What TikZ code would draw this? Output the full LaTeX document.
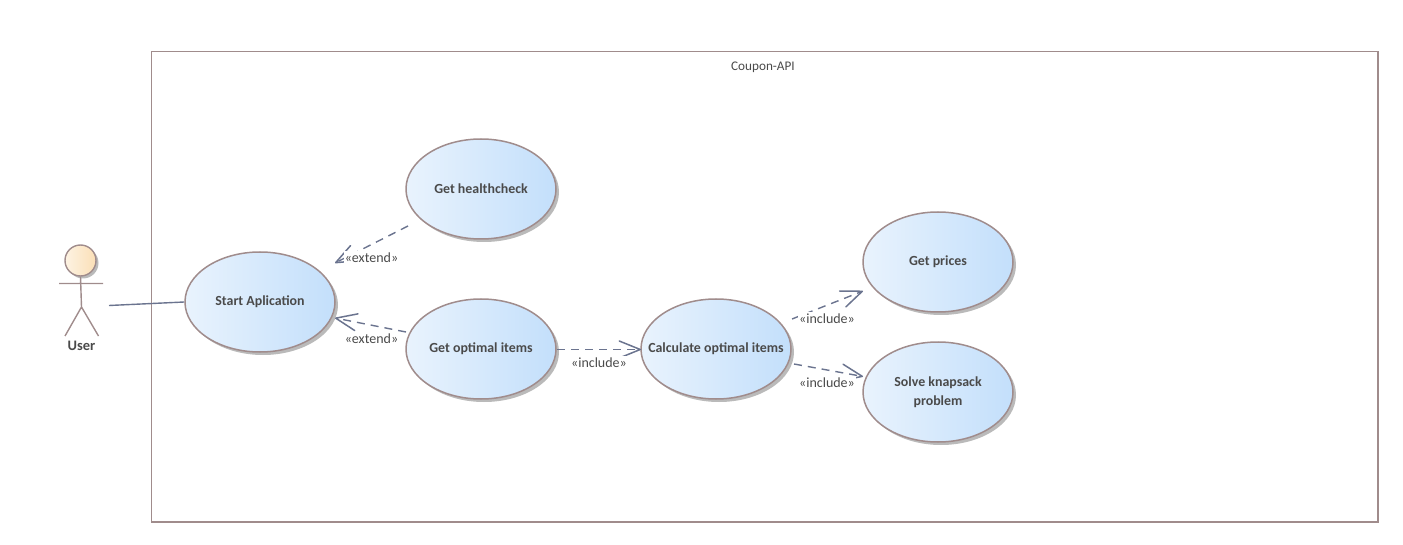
\documentclass[tikz,border=0pt]{standalone}
\usepackage{fontspec}
\setmainfont{Carlito}
\usetikzlibrary{arrows.meta,shapes.geometric,shadows}
\definecolor{edgeC}{HTML}{A08C8C}
\definecolor{lineC}{HTML}{6B748F}
\definecolor{textC}{HTML}{4A4A4A}
\definecolor{ucL}{HTML}{E9F3FD}
\definecolor{ucR}{HTML}{C3DFFB}
\definecolor{acL}{HTML}{FDF3E3}
\definecolor{acR}{HTML}{FBDFB6}
\tikzset{
  x=1pt,y=-1pt,
  usecase/.style={ellipse,draw=edgeC,line width=1.5pt,minimum width=150pt,minimum height=100pt,inner xsep=-20pt,inner ysep=0pt,
    left color=ucL,right color=ucR,align=center,text=textC,font=\fontsize{13.9}{19}\selectfont\bfseries,
    drop shadow={shadow xshift=3pt,shadow yshift=-3pt,fill=black!45,opacity=.6}},
  boundary/.style={draw=edgeC,line width=1.4pt},
  limb/.style={draw=edgeC,line width=1.4pt},
  assoc/.style={draw=lineC,line width=1.4pt},
  dep/.style={draw=lineC,line width=1.4pt,dash pattern=on 8pt off 6pt,
    -{Straight Barb[length=21pt,width=17pt,line width=1.5pt,round]}},
  stereo/.style={font=\fontsize{14}{16}\selectfont,text=textC,fill=white,inner xsep=1pt,inner ysep=2pt},
  lbl/.style={text=textC,inner sep=0pt}
}
\newcommand{\low}[1]{\raisebox{-2pt}{#1}}
\begin{document}
\begin{tikzpicture}
\useasboundingbox (0,0) rectangle (1403,545);
\node[boundary,outer sep=0pt,minimum width=1226.5pt,minimum height=470.5pt,inner sep=0pt,anchor=north west] (sys) at (151.5,51.5) {};
\node[lbl,font=\fontsize{13.2}{15}\selectfont] (sysname) at (763,67.5) {Coupon-API};

% use cases
\node[usecase] (start) at (260,302) {\low{Start Aplication}};
\node[usecase] (health) at (481,189) {\low{Get healthcheck}};
\node[usecase] (optimal) at (481,349) {\low{Get optimal items}};
\node[usecase] (calc) at (716,349) {\low{Calculate optimal items}};
\node[usecase] (prices) at (938,262) {\low{Get prices}};
\node[usecase] (knap) at (938,392) {\low{Solve knapsack}\\\low{problem}};

% actor
\node[circle,draw=edgeC,line width=1.4pt,minimum size=31pt,inner sep=0pt,left color=acL,right color=acR,
  drop shadow={shadow xshift=2.5pt,shadow yshift=-2.5pt,fill=black!45,opacity=.6}] (head) at (80.5,260.5) {};
\coordinate (hip) at (81.5,307);
\coordinate (armL) at (59,283.5);
\coordinate (armR) at (103,283.5);
\coordinate (legL) at (65,336);
\coordinate (legR) at (98.5,336);
\draw[limb] (head.south) -- (hip) (armL) -- (armR) (legL) -- (hip) -- (legR);
\node[lbl,font=\fontsize{14.5}{16}\selectfont\bfseries] (user) at (81.5,346) {User};

% connector ends
\coordinate (uOut) at (109,305.5);
\coordinate (hOut) at (408,226);
\coordinate (hIn) at (335,263);
\coordinate (oOut) at (406,332);
\coordinate (oIn) at (335,318);
\coordinate (o2Out) at (557,349.5);
\coordinate (cIn) at (641,349.5);
\coordinate (cOut) at (792,319);
\coordinate (pIn) at (863,291);
\coordinate (c2Out) at (794,364);
\coordinate (kIn) at (863,376.5);

\draw[assoc] (uOut) -- (start.west);
\draw[dep] (hOut) -- (hIn);
\draw[dep] (oOut) -- (oIn);
\draw[dep] (o2Out) -- (cIn);
\draw[dep] (cOut) -- (pIn);
\draw[dep] (c2Out) -- (kIn);

\node[stereo] (l1) at (371.5,257.5) {«extend»};
\node[stereo] (l2) at (371.5,339) {«extend»};
\node[stereo] (l3) at (599,363) {«include»};
\node[stereo] (l4) at (827,319) {«include»};
\node[stereo] (l5) at (827,383) {«include»};
\end{tikzpicture}
\end{document}
